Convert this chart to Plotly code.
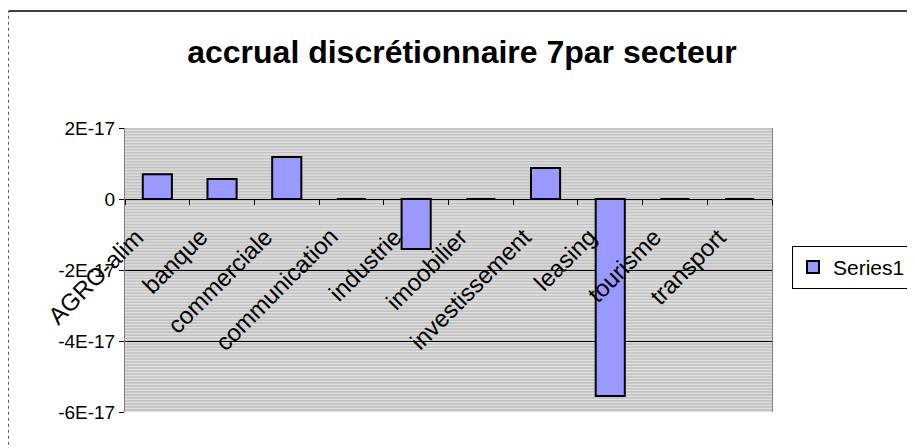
import plotly.graph_objects as go

categories = ["AGRO-alim", "banque", "commerciale", "communication", "industrie",
              "imoobilier", "investissement", "leasing", "tourisme", "transport"]
values = [7.0e-18, 5.6e-18, 1.18e-17, 0.0, -1.41e-17, 0.0, 8.7e-18, -5.55e-17, 0.0, 0.0]
series_name = "Series1"
y_tickvals = [2e-17, 0, -2e-17, -4e-17, -6e-17]
y_ticktext = ["2E-17", "0", "-2E-17", "-4E-17", "-6E-17"]
title_text = "accrual discrétionnaire 7par secteur"

FONT = "Liberation Sans, Arial, sans-serif"

fig = go.Figure()
fig.add_trace(go.Bar(
    x=categories, y=values, name=series_name,
    marker=dict(color="#9999ff", line=dict(color="#000000", width=2)),
    showlegend=True,
))

# horizontal stripes of the plot area
stripe_shapes = []
n_stripes = 95
for i in range(n_stripes):
    y0 = i / n_stripes
    stripe_shapes.append(dict(type="rect", xref="paper", yref="paper",
                              x0=0, x1=1, y0=y0, y1=y0 + 0.45 / n_stripes,
                              fillcolor="#e0e0e0", line=dict(width=0), layer="below"))

shapes = stripe_shapes + [
    # outer chart border
    dict(type="line", xref="paper", yref="paper", x0=-0.18, x1=1.3, y0=1.412, y1=1.412,
         line=dict(color="#000000", width=1.5)),
    dict(type="line", xref="paper", yref="paper", x0=-0.18, x1=-0.18, y0=-0.2, y1=1.412,
         line=dict(color="#555555", width=1, dash="dot")),
]

annotations = []
for c in categories:
    annotations.append(dict(
        x=c, xref="x", y=0.675, yref="paper", text=c, showarrow=False,
        textangle=-45, xanchor="right", yanchor="top", xshift=-6,
        font=dict(family=FONT, size=24, color="#000000"),
    ))

fig.update_layout(
    width=915, height=448,
    margin=dict(l=117, r=151, t=120, b=44),
    paper_bgcolor="#ffffff",
    plot_bgcolor="#c2c2c2",
    title=dict(text=title_text, x=454 / 915, xref="container", xanchor="center",
               y=1 - 44 / 448, yref="container", yanchor="middle",
               font=dict(family=FONT, size=32, color="#000000", weight="bold")),
    bargap=0.55,
    xaxis=dict(
        type="category", anchor="free", position=0.75,
        showline=True, linecolor="#000000", linewidth=1,
        ticks="outside", ticklen=5, tickcolor="#000000", tickson="boundaries",
        showticklabels=False, showgrid=False, zeroline=False,
        range=[-0.5, 9.5],
    ),
    yaxis=dict(
        range=[-6e-17, 2e-17], tickvals=y_tickvals, ticktext=y_ticktext,
        ticks="outside", ticklen=5, tickcolor="#000000",
        showgrid=True, gridcolor="#000000", gridwidth=1,
        zeroline=False, showline=True, linecolor="#808080", mirror=True,
        tickfont=dict(family=FONT, size=19, color="#000000"),
    ),
    legend=dict(x=(784 - 117) / 647, y=0.585, xanchor="left", yanchor="top",
                bordercolor="#000000", borderwidth=1, bgcolor="#ffffff",
                itemwidth=30,
                font=dict(family=FONT, size=21, color="#000000")),
    shapes=shapes,
    annotations=annotations,
)

fig.write_html("out.html")
